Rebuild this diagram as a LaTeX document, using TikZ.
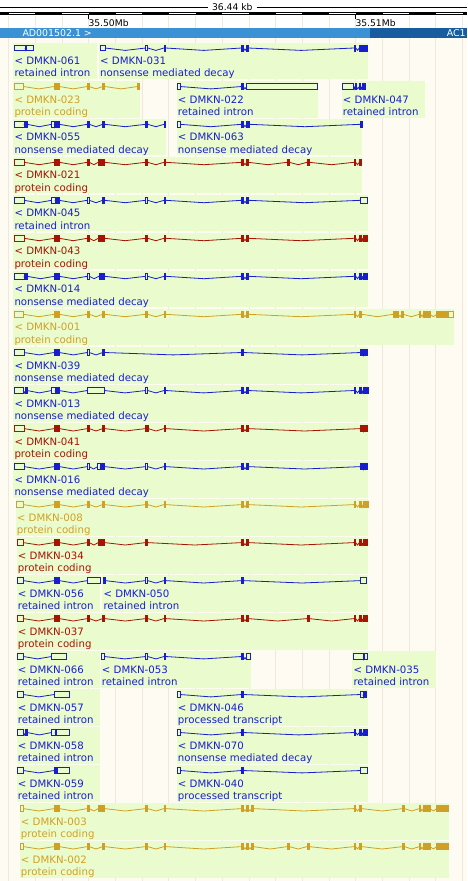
\documentclass[tikz,border=0pt]{standalone}
\usepackage{fontspec}
\setmainfont{DejaVu Sans}
\usepackage{tikz}
\definecolor{EnsBlue}{RGB}{25,30,205}
\definecolor{EnsRed}{RGB}{165,20,5}
\definecolor{EnsGold}{RGB}{208,160,38}
\definecolor{EnsGreen}{RGB}{234,252,206}
\definecolor{EnsCream}{RGB}{254,251,242}
\definecolor{EnsGrid}{RGB}{240,233,218}
\definecolor{BandLight}{RGB}{58,145,212}
\definecolor{BandDark}{RGB}{22,92,158}

\newcommand{\transcript}[7]{%
  \fill[EnsGreen] ({#4-1},{#3-5.3}) rectangle (#5,{#3+31});
  \node[lbl,text=#2] (n#1) at (#4,{#3+16.5}) {< DMKN-#1};
  \node[lbl,text=#2] (t#1) at (#4,{#3+28.7}) {#6};
  \foreach \xa/\xb/\k [remember=\xb as \xp (initially 0)] in {#7}{%
    \ifdim\xp pt>0pt \draw[intron,#2] (\xp,#3) -- ({(\xp+\xa)/2},{#3+2.4}) -- (\xa,#3);\fi
    \ifnum\k=1 \filldraw[exon,#2] (\xa,{#3-3}) rectangle (\xb,{#3+3});
    \else \draw[exon,#2] (\xa,{#3-2.8}) rectangle (\xb,{#3+2.8});\fi
  }%
}

\begin{document}
\begin{tikzpicture}[x=1pt,y=-1pt,
  lbl/.style={anchor=base west,inner sep=0pt,font=\fontsize{10.2}{12}\selectfont},
  rul/.style={inner sep=0pt,font=\fontsize{9.2}{11}\selectfont},
  band/.style={anchor=base west,inner sep=0pt,text=white,font=\fontsize{9.4}{11}\selectfont},
  exon/.style={line width=0.9pt},
  intron/.style={line width=0.8pt}]
\useasboundingbox (0,0) rectangle (467,881);
\fill[white] (0,0) rectangle (467,28.3);
\fill[EnsCream] (0,28.3) rectangle (467,881);
\foreach \i in {0,...,17} \draw[EnsGrid,line width=0.9pt] ({8.7+26.7*\i},16) -- ++(0,865);

\coordinate (kl) at (0,7);
\coordinate (kr) at (467,7);
\node[rul,inner xsep=4pt,fill=white] (kb) at (232.3,7) {36.44 kb};
\draw[line width=0.8pt] (kl) -- (kb) -- (kr);
\fill (0,12.3) rectangle (467,15.3);
\foreach \i in {0,...,8} \fill[white] ({8.7+53.4*\i},12.9) rectangle ++(26.7,1.5);
\coordinate (t50) at (88.3,15);
\coordinate (t51) at (355.3,15);
\node[rul,anchor=base west] (m50) at (88.3,26) {35.50Mb};
\node[rul,anchor=base west] (m51) at (355.3,26) {35.51Mb};
\draw[line width=0.8pt] (t50) -- (m50.north west);
\draw[line width=0.8pt] (t51) -- (m51.north west);

\fill[BandLight] (0,28.3) rectangle (370,38.3);
\fill[BandDark] (370,28.3) rectangle (467,38.3);
\node[band] (ad) at (22.3,36.8) {AD001502.1 >};
\node[band] (ac) at (446.7,36.8) {AC1};

\transcript{061}{EnsBlue}{48}{14.3}{97}{retained intron}{14.3/25/0, 26.7/33.3/0}
\transcript{031}{EnsBlue}{48}{100}{368}{nonsense mediated decay}{100/105/0, 145.7/147.7/0, 164/165.7/1, 241.7/243.3/1, 246.7/248.3/1, 354/355.7/1, 359.3/362.3/1, 363.3/367.7/1}
\transcript{023}{EnsGold}{86.5}{14.3}{140}{protein coding}{14.3/23.3/0, 54.3/56/1, 57.7/59.3/1, 87.3/89.3/1, 102.7/104.7/1, 137.7/139.3/1}
\transcript{022}{EnsBlue}{86.5}{177.7}{318}{retained intron}{177.7/180/0, 241.7/243.3/1, 246.7/317.3/0}
\transcript{047}{EnsBlue}{86.5}{342.7}{425}{retained intron}{342.7/353.7/0, 355/356.3/1, 359.3/360.7/1, 362.3/365.3/1}
\transcript{055}{EnsBlue}{124.3}{14.3}{165.7}{nonsense mediated decay}{14.3/24/0, 25.7/27/1, 51.7/54.3/0, 55.3/56.3/1, 57.7/59.3/1, 87.3/89.3/1, 102.7/104.7/1, 145.7/147.7/1, 164/165.7/1}
\transcript{063}{EnsBlue}{124.3}{177.7}{362}{nonsense mediated decay}{177.7/180/0, 241.7/243.3/1, 246.7/249.3/1, 360.7/362.3/1}
\transcript{021}{EnsRed}{162.3}{14.3}{362}{protein coding}{14.3/24/0, 54.3/56/1, 57.7/59.3/1, 87.3/89.3/1, 98.3/100/1, 101.7/104.7/1, 145.7/147.7/1, 164/165.7/1, 241.7/243.3/1, 246.7/248.3/1, 287.3/289.3/1, 307/309/1, 354/355.7/1, 359.3/361.7/1}
\transcript{045}{EnsBlue}{200.3}{14.3}{367.5}{retained intron}{14.3/24/0, 51.7/55/0, 56.7/59/1, 87.3/89.3/0, 102.7/104.7/1, 145.7/147.7/0, 164/165.7/1, 241.7/243.3/1, 246.7/248.3/1, 360.7/367.3/0}
\transcript{043}{EnsRed}{238.3}{14.3}{367.5}{protein coding}{14.3/24/0, 54.3/56/1, 57.7/59.3/1, 87.3/89.3/1, 98.3/100/1, 101.7/104.7/1, 145.7/147.7/1, 164/165.7/1, 241.7/243.3/1, 246.7/248.3/1, 354/355.7/1, 359.3/361.7/1, 363/367.3/1}
\transcript{014}{EnsBlue}{276.3}{14.3}{367.5}{nonsense mediated decay}{14.3/24/0, 25.7/27/1, 54.3/56/1, 57.7/59.3/1, 87.3/89.3/0, 99/100/1, 101.7/104.7/1, 145.7/147.7/0, 164/165.7/1, 241.7/243.3/1, 246.7/248.3/1, 354/355.7/1, 359.3/361.7/1, 363/367.3/1}
\transcript{001}{EnsGold}{314.3}{14.3}{453.5}{protein coding}{14.3/23.3/0, 54.3/56/1, 57.7/59.3/1, 87.3/89.3/1, 102.7/104.7/1, 145.7/147.7/1, 164/165.7/1, 241.7/243.3/1, 246.7/248.3/1, 354/355.7/1, 359.3/361.7/1, 393.3/398.3/1, 401.7/403.3/1, 419.3/420.7/1, 423.3/430/1, 436.7/448.3/1, 448.3/453.3/0}
\transcript{039}{EnsBlue}{352.5}{14.3}{367.5}{nonsense mediated decay}{14.3/24/0, 54.3/56/1, 57.7/59.3/1, 87.3/89.3/0, 102.7/104.7/1, 241.7/243.3/1, 360.7/363/1, 364/367.3/1}
\transcript{013}{EnsBlue}{390.5}{14.3}{368}{nonsense mediated decay}{14.3/23.3/0, 25.7/27/1, 51.7/55/0, 56.7/59/1, 87.3/104.3/0, 145.7/147.7/0, 164/165.7/1, 241.7/243.3/1, 246.7/248.3/1, 354/355.7/1, 359.3/361.7/1, 363/368/1}
\transcript{041}{EnsRed}{428.6}{14.3}{367.5}{protein coding}{14.3/24/0, 54.3/56/1, 57.7/59.3/1, 87.3/89.3/1, 102.7/104.7/1, 145.7/148/1, 164/165.7/1, 241.7/243.3/1, 246.7/248.3/1, 360.7/363/1, 364/367.3/1}
\transcript{016}{EnsBlue}{466.6}{14.3}{367.5}{nonsense mediated decay}{14.3/24/0, 54.3/56/1, 57.7/59.3/1, 87.3/89.3/0, 97.7/100/0, 101.7/104.7/1, 145.7/147.7/0, 164/165.7/1, 241.7/243.3/1, 246.7/248.3/1, 360.7/363/1, 364/367.3/1}
\transcript{008}{EnsGold}{504.6}{16.7}{368}{protein coding}{16.7/23.3/0, 54.3/56/1, 57.7/59.3/1, 87.3/89.3/1, 102.7/104.7/1, 145.7/147.7/1, 164/165.7/1, 241.7/243.3/1, 246.7/248.3/1, 354/355.7/1, 359.3/361.7/1, 363/368/1}
\transcript{034}{EnsRed}{542.6}{17.7}{367.5}{protein coding}{17.7/23.3/0, 54.3/56/1, 57.7/59.3/1, 87.3/89.3/1, 98.3/100/1, 101.7/104.7/1, 145.7/147.7/1, 241.7/243.3/1, 246.7/248.3/1, 354/355.7/1, 359.3/361.7/1, 363/367.3/1}
\transcript{056}{EnsBlue}{580.6}{17.7}{100}{retained intron}{17.7/23.3/0, 54.3/56/1, 57.7/59.3/1, 87.3/100/0}
\transcript{050}{EnsBlue}{580.6}{103.3}{367.5}{retained intron}{103.3/105/1, 145.7/147.7/0, 164/165.7/1, 241.7/243.3/1, 360.7/366.7/0}
\transcript{037}{EnsRed}{618.6}{17.7}{367.5}{protein coding}{17.7/23.3/0, 54.3/56/1, 57.7/59.3/1, 87.3/89.3/1, 102.7/104.7/1, 145.7/147.7/1, 164/165.7/1, 241.7/243.3/1, 246.7/248.3/1, 307/309/1, 354/355.7/1, 359.3/361.7/1, 363/367.3/1}
\transcript{066}{EnsBlue}{656.5}{17.7}{100}{retained intron}{17.7/23.3/0, 51.7/66.7/0}
\transcript{053}{EnsBlue}{656.5}{101.7}{250.7}{retained intron}{101.7/104.3/0, 145.7/147.7/0, 164/165.7/1, 241.7/243.3/1, 246.7/250.7/0}
\transcript{035}{EnsBlue}{656.5}{353.3}{435.5}{retained intron}{353.3/363.3/0, 364.3/367.3/0}
\transcript{057}{EnsBlue}{694.5}{17.7}{100}{retained intron}{17.7/23.3/0, 54.3/69.3/0}
\transcript{046}{EnsBlue}{694.5}{177.7}{367.5}{processed transcript}{177.7/180/0, 241.7/243.3/1, 360.7/363/0, 364/366.7/1}
\transcript{058}{EnsBlue}{732.5}{17.7}{100}{retained intron}{17.7/23.3/0, 25.7/27/1, 51.7/55/0, 56.7/69.3/0}
\transcript{070}{EnsBlue}{732.5}{177.7}{367.5}{nonsense mediated decay}{177.7/180/0, 241.7/243.3/1, 354/355.7/1, 359.3/361.7/1, 363/367.3/1}
\transcript{059}{EnsBlue}{770.5}{17.7}{100}{retained intron}{17.7/23.3/0, 54.3/56/1, 57.7/69.3/0}
\transcript{040}{EnsBlue}{770.5}{177.7}{367.5}{processed transcript}{177.7/180/0, 241.7/243.3/1, 360.7/367.3/0}
\transcript{003}{EnsGold}{808.6}{20.7}{449}{protein coding}{20.7/23.3/0, 54.3/56/1, 57.7/59.3/1, 87.3/89.3/1, 98.3/100/1, 101.7/104.7/1, 145.7/147.7/1, 164/165.7/1, 241.7/243.3/1, 246.7/248.3/1, 251.7/253.3/1, 354/355.7/1, 359.3/361.7/1, 402.7/404.3/1, 419.3/420.7/1, 423.3/430/1, 436.7/448.3/1}
\transcript{002}{EnsGold}{846.6}{20.7}{449}{protein coding}{20.7/23.3/0, 54.3/56/1, 57.7/59.3/1, 87.3/89.3/1, 102.7/104.7/1, 145.7/147.7/1, 164/165.7/1, 241.7/243.3/1, 246.7/248.3/1, 251.7/253.3/1, 287.3/289.3/1, 307/309/1, 354/355.7/1, 359.3/361.7/1, 402.7/404.3/1, 419.3/420.7/1, 423.3/430/1, 436.7/448.3/1}
\end{tikzpicture}
\end{document}
